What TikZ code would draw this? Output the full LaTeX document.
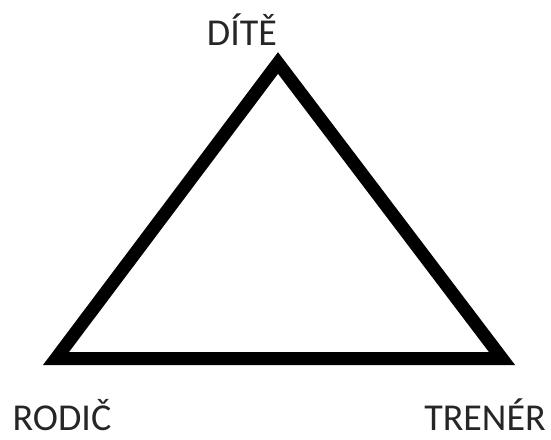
\documentclass[tikz,border=0pt]{standalone}
\usepackage{fontspec}
\setmainfont{Carlito}
\usetikzlibrary{positioning}

\begin{document}
\begin{tikzpicture}[
    x=0.5pt, y=-0.5pt,
    hrana/.style={
        draw=black,
        line width=6.5pt,
        line join=miter
    },
    popisek/.style={
        anchor=base,
        inner sep=0pt,
        text=black!85,
        font=\fontsize{19}{23}\selectfont
    }
]

\useasboundingbox (0,0) rectangle (551,439);

\coordinate (dite) at (278,63);
\coordinate (rodic) at (56,358.5);
\coordinate (trener) at (502,358.5);

\node[popisek] (lbldite) at (242,45) {DÍTĚ};
\node[popisek] (lblrodic) at (62,430) {RODIČ};
\node[popisek] (lbltrener) at (485,430) {TRENÉR};

\draw[hrana] (dite) -- (rodic) -- (trener) -- cycle;

\end{tikzpicture}
\end{document}
